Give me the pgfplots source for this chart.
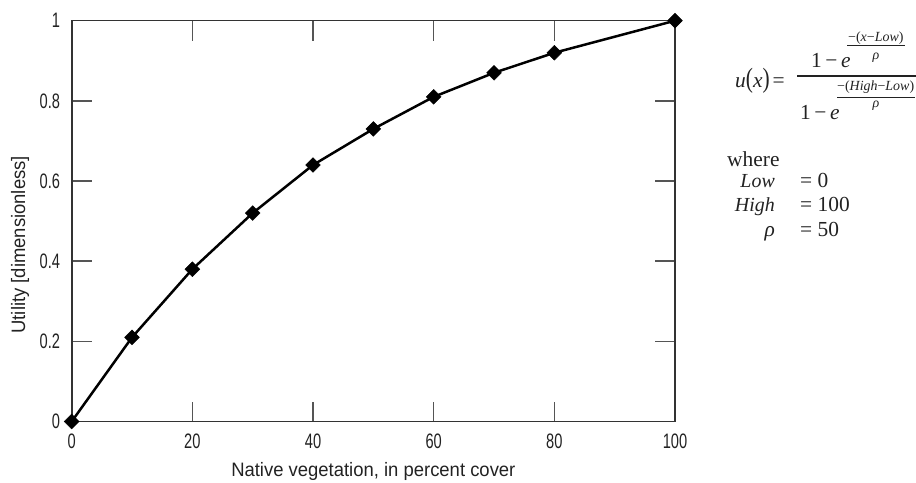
\documentclass[border=0pt]{standalone}
\usepackage{fontspec}
\usepackage{pgfplots}
\pgfplotsset{compat=1.18}
\setmainfont{Liberation Sans}
\newfontfamily\labelfont{Liberation Sans}[FakeStretch=0.95]
\newfontfamily\tickfont{Liberation Sans}[FakeStretch=0.70]
\newfontfamily\formfont{Liberation Serif}
\definecolor{axisgray}{HTML}{333333}
\definecolor{tickgray}{HTML}{555555}
\definecolor{textgray}{HTML}{222222}

% utility curve sampled at the plotted cover values
\pgfplotstableread{
x    u
0    0.00
10   0.21
20   0.38
30   0.52
40   0.64
50   0.73
60   0.81
70   0.87
80   0.92
100  1.00
}\utilitydata

\newcommand{\formbig}{\formfont\fontsize{21.5}{25}\selectfont}
\newcommand{\formmid}{\formfont\fontsize{20}{24}\selectfont}
\newcommand{\formsmall}{\formfont\fontsize{14}{16}\selectfont}

\begin{document}
\begin{tikzpicture}
\path[use as bounding box] (0,0) rectangle (916bp,483bp);
\begin{axis}[
  at={(71.7bp,61.5bp)}, anchor=south west,
  width=603.3bp, height=400.8bp, scale only axis,
  xmin=0, xmax=100, ymin=0, ymax=1,
  clip=false,
  axis line style={axisgray, line width=1.6bp},
  xtick={0,20,40,60,80,100},
  ytick={0,0.2,0.4,0.6,0.8,1},
  yticklabels={0,0.2,0.4,0.6,0.8,1},
  tick align=inside,
  major tick length=20bp,
  tick style={tickgray, line width=1.4bp},
  /pgf/number format/assume math mode=true,
  ticklabel style={font=\tickfont\fontsize{21}{24}\selectfont, text=textgray, inner sep=0pt},
  xticklabel style={yshift=-12bp},
  yticklabel style={xshift=-11.5bp},
  xlabel={Native vegetation, in percent cover},
  ylabel={Utility [dimensionless]},
  label style={font=\labelfont\fontsize{19.5}{23}\selectfont, text=textgray},
  xlabel style={at={(axis description cs:0.5,0)}, anchor=base, yshift=-55bp},
  ylabel style={at={(axis description cs:0,0.441)}, anchor=base, yshift=46.5bp},
]
\addplot[black, line width=2.5bp, mark=square*, mark size=5.2bp,
  mark options={rotate=45, fill=black, line width=0.5bp}]
  table[x=x, y=u] {\utilitydata};
\end{axis}

% utility function
\begin{scope}[text=textgray]
\node[anchor=base west, inner sep=0pt] at (735bp,395bp)
  {\formbig\textit{u}\scalebox{1}[1.3]{(}\textit{x}\scalebox{1}[1.3]{)}\hspace{3bp}=};
\draw[textgray, line width=1.1bp] (797bp,407bp) -- (916bp,407bp);
\node[anchor=base west, inner sep=0pt] at (811bp,415bp) {\formbig 1\,\textminus\,\textit{e}};
\node[anchor=base west, inner sep=0pt] at (848bp,441bp) {\formsmall\textminus(\textit{x}\textminus\textit{Low})};
\draw[textgray, line width=0.8bp] (847bp,438bp) -- (905bp,438bp);
\node[anchor=base, inner sep=0pt] at (876bp,423bp) {\formsmall\textit{ρ}};
\node[anchor=base west, inner sep=0pt] at (800bp,363bp) {\formbig 1\,\textminus\,\textit{e}};
\node[anchor=base west, inner sep=0pt] at (837bp,392bp) {\formsmall\textminus(\textit{High}\textminus\textit{Low})};
\draw[textgray, line width=0.8bp] (837bp,386bp) -- (915bp,386bp);
\node[anchor=base, inner sep=0pt] at (876bp,375bp) {\formsmall\textit{ρ}};

\node[anchor=base west, inner sep=0pt] at (727bp,316bp) {\formbig where};
\node[anchor=base east, inner sep=0pt] at (775bp,295bp) {\formmid\textit{Low}};
\node[anchor=base west, inner sep=0pt] at (800bp,295bp) {\formbig = 0};
\node[anchor=base east, inner sep=0pt] at (775bp,271bp) {\formmid\textit{High}};
\node[anchor=base west, inner sep=0pt] at (800bp,271bp) {\formbig = 100};
\node[anchor=base east, inner sep=0pt] at (775bp,246bp) {\formbig\textit{ρ}};
\node[anchor=base west, inner sep=0pt] at (800bp,246bp) {\formbig = 50};
\end{scope}
\end{tikzpicture}
\end{document}
